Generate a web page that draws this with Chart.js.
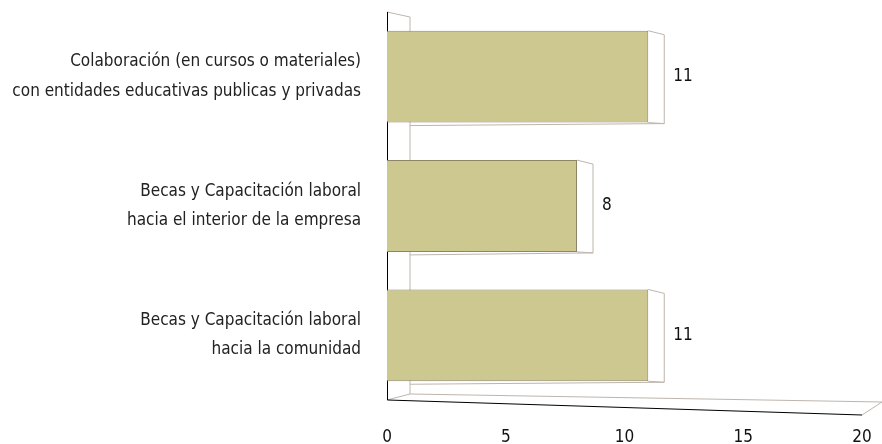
<!DOCTYPE html>
<html>
<head>
<meta charset="utf-8">
<script src="https://cdn.jsdelivr.net/npm/chart.js@4/dist/chart.umd.min.js"></script>
<style>
    html, body { margin: 0; padding: 0; background: #fff; }
    #box { width: 882px; height: 444px; }
</style>
</head>
<body>
<div id="box"><canvas id="grafico"></canvas></div>
<script>
let categorias = [
    ["Colaboración (en cursos o materiales)", "con entidades educativas publicas y privadas"],
    ["Becas y Capacitación laboral", "hacia el interior de la empresa"],
    ["Becas y Capacitación laboral", "hacia la comunidad"]
];
let valores = [11, 8, 11];
let ticksX = [0, 5, 10, 15, 20];

let fuente = "'Liberation Sans Narrow', 'DejaVu Sans Condensed', 'Roboto', sans-serif";

// caja 3D simple: pared izquierda, piso inclinado y fondo de cada barra
let efecto3d = {
    id: "efecto3d",
    beforeDatasetsDraw(chart) {
        let ctx = chart.ctx;
        let a = chart.chartArea;
        ctx.save();
        ctx.strokeStyle = "#bdb5ad";
        ctx.lineWidth = 1;
        // pared
        ctx.beginPath();
        ctx.moveTo(a.left, a.top);
        ctx.lineTo(a.left + 23, a.top + 5);
        ctx.lineTo(a.left + 23, a.bottom - 6);
        ctx.lineTo(a.left, a.bottom);
        ctx.stroke();
        // piso
        ctx.beginPath();
        ctx.moveTo(a.left + 23, a.bottom - 6);
        ctx.lineTo(a.right + 20, a.bottom + 2);
        ctx.lineTo(a.right, a.bottom + 15);
        ctx.stroke();
        ctx.strokeStyle = "#000";
        ctx.beginPath();
        ctx.moveTo(a.left + 0.5, a.top);
        ctx.lineTo(a.left + 0.5, a.bottom);
        ctx.lineTo(a.right, a.bottom + 15);
        ctx.stroke();
        ctx.restore();
    },
    afterDatasetsDraw(chart) {
        let ctx = chart.ctx;
        let a = chart.chartArea;
        let meta = chart.getDatasetMeta(0);
        ctx.save();
        ctx.strokeStyle = "#bdb5ad";
        ctx.lineWidth = 1;
        meta.data.forEach(function (barra, i) {
            let xv = barra.x;
            let arriba = barra.y - barra.height / 2;
            let abajo = barra.y + barra.height / 2;
            ctx.beginPath();
            ctx.moveTo(xv, arriba);
            ctx.lineTo(xv + 16, arriba + 4);
            ctx.lineTo(xv + 16, abajo + 1);
            ctx.lineTo(xv, abajo);
            ctx.moveTo(xv + 16, abajo + 1);
            ctx.lineTo(a.left + 23, abajo + 3);
            ctx.stroke();

            ctx.fillStyle = "#111";
            ctx.font = "17px " + fuente;
            ctx.textAlign = "left";
            ctx.textBaseline = "middle";
            ctx.fillText(valores[i], xv + 25, barra.y);
        });
        ctx.restore();
    }
};

new Chart(document.getElementById("grafico"), {
    type: "bar",
    data: {
        labels: categorias,
        datasets: [{
            data: valores,
            backgroundColor: "#ccc88f",
            borderColor: "#8c8566",
            borderWidth: 1,
            borderSkipped: "left",
            barPercentage: 0.71,
            categoryPercentage: 1
        }]
    },
    options: {
        indexAxis: "y",
        responsive: true,
        maintainAspectRatio: false,
        animation: false,
        layout: { padding: { top: 12, right: 20, left: 0, bottom: 0 } },
        plugins: {
            legend: { display: false },
            tooltip: { enabled: false }
        },
        scales: {
            x: {
                min: 0,
                max: 20,
                afterBuildTicks: function (eje) {
                    eje.ticks = ticksX.map(v => ({ value: v }));
                },
                grid: { display: false, drawTicks: false },
                border: { display: false },
                ticks: {
                    color: "#111",
                    padding: 27,
                    font: { family: fuente, size: 17 }
                },
                afterFit: function (eje) {
                    eje.height = 44;
                    eje.paddingLeft = 0;
                    eje.paddingRight = 0;
                }
            },
            y: {
                grid: { display: false, drawTicks: false },
                border: { display: false },
                ticks: {
                    color: "#222",
                    padding: 26,
                    crossAlign: "near",
                    font: { family: fuente, size: 17, lineHeight: 1.72 }
                },
                afterFit: function (eje) {
                    eje.width = 387;
                    eje.paddingTop = 0;
                    eje.paddingBottom = 0;
                }
            }
        }
    },
    plugins: [efecto3d]
});
</script>
</body>
</html>
